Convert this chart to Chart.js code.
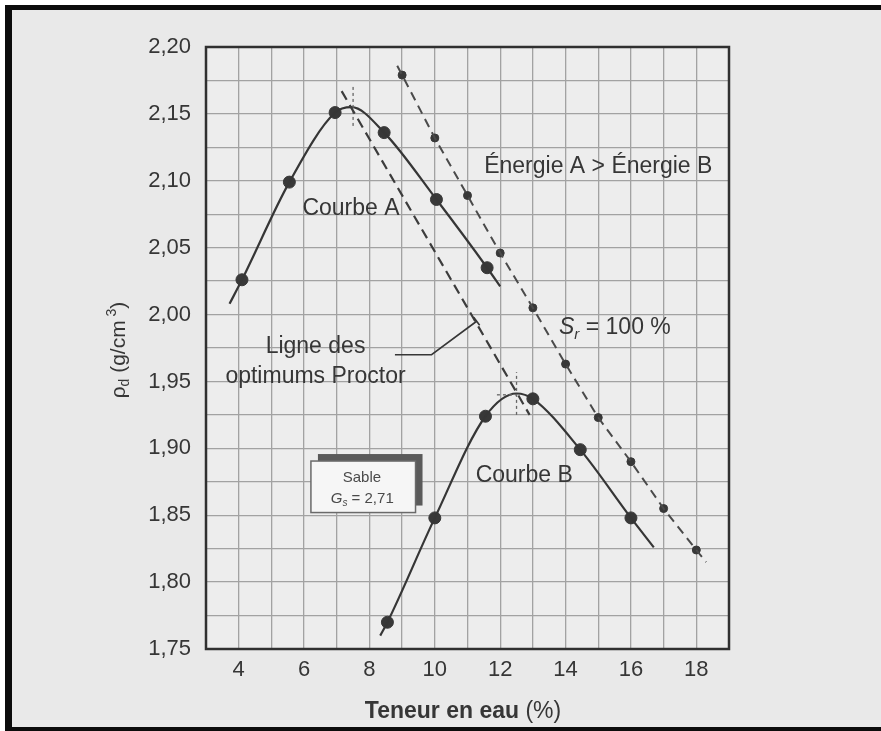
<!DOCTYPE html>
<html><head><meta charset="utf-8">
<script src="https://cdn.jsdelivr.net/npm/chart.js@4.4.0/dist/chart.umd.min.js"></script>
<style>html,body{margin:0;padding:0;background:#fff;overflow:hidden}canvas{display:block}</style>
</head><body>
<canvas id="c" width="881" height="731"></canvas>
<script>
// ---------- data ----------
const xTickValues = [4, 6, 8, 10, 12, 14, 16, 18];
const xTickLabels = ['4', '6', '8', '10', '12', '14', '16', '18'];
const yTickValues = [1.75, 1.80, 1.85, 1.90, 1.95, 2.00, 2.05, 2.10, 2.15, 2.20];
const yTickLabels = ['1,75', '1,80', '1,85', '1,90', '1,95', '2,00', '2,05', '2,10', '2,15', '2,20'];

// Courbe A (measured points)
const curveA_w  = [4.1, 5.55, 6.95, 8.45, 10.05, 11.6];
const curveA_rd = [2.026, 2.099, 2.151, 2.136, 2.086, 2.035];
// Courbe A (drawn trace)
const traceA_w  = [3.72, 4.1, 5.55, 6.95, 7.45, 8.45, 10.05, 11.6, 12.0];
const traceA_rd = [2.008, 2.026, 2.099, 2.151, 2.155, 2.136, 2.086, 2.035, 2.021];

// Courbe B (measured points)
const curveB_w  = [8.55, 10.0, 11.55, 13.0, 14.45, 16.0];
const curveB_rd = [1.770, 1.848, 1.924, 1.937, 1.899, 1.848];
// Courbe B (drawn trace)
const traceB_w  = [8.33, 8.55, 10.0, 11.55, 12.5, 13.0, 14.45, 16.0, 16.7];
const traceB_rd = [1.760, 1.770, 1.848, 1.924, 1.941, 1.937, 1.899, 1.848, 1.826];

// Sr = 100 % (points and trace ends)
const sat_w  = [9, 10, 11, 12, 13, 14, 15, 16, 17, 18];
const sat_rd = [2.179, 2.132, 2.089, 2.046, 2.005, 1.963, 1.923, 1.890, 1.855, 1.824];
const satTrace_w  = [8.85, 9, 10, 11, 12, 13, 14, 15, 16, 17, 18, 18.3];
const satTrace_rd = [2.186, 2.179, 2.132, 2.089, 2.046, 2.005, 1.963, 1.923, 1.890, 1.855, 1.824, 1.815];

// Ligne des optimums Proctor
const opt_w  = [7.15, 12.9];
const opt_rd = [2.167, 1.925];

// short dotted guides at the optimums
const guideA_w = [7.5, 7.5],   guideA_rd = [2.141, 2.171];
const guideBv_w = [12.5, 12.5], guideBv_rd = [1.925, 1.957];
const guideBh_w = [11.9, 12.5], guideBh_rd = [1.940, 1.940];

// leader line of the label
const leader_w  = [8.78, 9.90, 11.28];
const leader_rd = [1.970, 1.970, 1.995];

// ---------- helpers / styles ----------
const FONT = "'Liberation Sans', Arial, Helvetica, sans-serif";
const INK = '#363636';
const pts = (xs, ys) => xs.map((x, i) => ({x: x, y: ys[i]}));
const xGrid = []; for (let v = 3; v <= 19; v++) xGrid.push(v);
const yGrid = []; for (let i = 0; i <= 18; i++) yGrid.push(+(1.75 + 0.025 * i).toFixed(3));

function lineDS(xs, ys, o) {
  return Object.assign({data: pts(xs, ys), showLine: true, pointRadius: 0, borderColor: INK,
    borderWidth: 2, fill: false, borderCapStyle: 'butt'}, o || {});
}
function dotDS(xs, ys, r) {
  return {data: pts(xs, ys), showLine: false, pointRadius: r, pointHoverRadius: r,
    pointBackgroundColor: '#383838', pointBorderColor: '#383838', pointBorderWidth: 1};
}

const decor = {
  id: 'decor',
  beforeDraw(chart) {
    const {ctx, chartArea: a} = chart;
    ctx.save();
    ctx.fillStyle = '#ffffff'; ctx.fillRect(0, 0, 881, 731);
    ctx.fillStyle = '#e9e9e9'; ctx.fillRect(5, 5, 876, 726);
    ctx.fillStyle = '#ededed'; ctx.fillRect(a.left, a.top, a.width, a.height);
    ctx.fillStyle = '#0c0c0c';
    ctx.fillRect(5, 5, 876, 5);
    ctx.fillRect(5, 5, 7, 726);
    ctx.fillRect(5, 727, 876, 4);
    ctx.restore();
  },
  afterDatasetsDraw(chart) {
    const {ctx} = chart;
    const X = v => chart.scales.x.getPixelForValue(v);
    const Y = v => chart.scales.y.getPixelForValue(v);
    ctx.save();
    // Sable box with shadow
    const bx0 = X(6.21), bx1 = X(9.41), by0 = Y(1.8905), by1 = Y(1.852);
    ctx.fillStyle = '#5a5a5a';
    ctx.fillRect(bx0 + 7, by0 - 7, bx1 - bx0, by1 - by0);
    ctx.fillStyle = '#f6f6f6';
    ctx.fillRect(bx0, by0, bx1 - bx0, by1 - by0);
    ctx.strokeStyle = '#6a6a6a'; ctx.lineWidth = 1.5;
    ctx.strokeRect(bx0, by0, bx1 - bx0, by1 - by0);
    ctx.fillStyle = '#4a4a4a';
    ctx.textBaseline = 'alphabetic';
    ctx.textAlign = 'center';
    ctx.font = '15px ' + FONT;
    ctx.fillText('Sable', X(7.77), Y(1.875));
    // G_s = 2,71
    const segG = [['G', 'italic 15px ' + FONT, 0], ['s', 'italic 10px ' + FONT, 3], [' = 2,71', '15px ' + FONT, 0]];
    drawSegs(ctx, segG, X(7.78), Y(1.8595), 'center');

    // leader end tick
    ctx.strokeStyle = INK; ctx.lineWidth = 1.6;
    const ex = X(11.28), ey = Y(1.995);
    const dx = ex - X(9.90), dy = ey - Y(1.970);
    const L = Math.hypot(dx, dy), nx = -dy / L, ny = dx / L;
    ctx.beginPath(); ctx.moveTo(ex - nx * 5, ey - ny * 5); ctx.lineTo(ex + nx * 5, ey + ny * 5); ctx.stroke();

    // text labels
    ctx.fillStyle = INK;
    ctx.font = '23px ' + FONT;
    const labels = [
      ['Énergie A > Énergie B', 11.51, 2.106, 'left'],
      ['Courbe A', 5.95, 2.0745, 'left'],
      ['Courbe B', 11.25, 1.875, 'left'],
      ['Ligne des', 6.35, 1.971, 'center'],
      ['optimums Proctor', 6.35, 1.949, 'center']
    ];
    labels.forEach(l => { ctx.textAlign = l[3]; ctx.fillText(l[0], X(l[1]), Y(l[2])); });
    // S_r = 100 %
    const segS = [['S', 'italic 23px ' + FONT, 0], ['r', 'italic 15px ' + FONT, 5], [' = 100 %', '23px ' + FONT, 0]];
    drawSegs(ctx, segS, X(13.8), Y(1.9855), 'left');
    ctx.restore();
  },
  afterDraw(chart) {
    const {ctx, chartArea: a} = chart;
    ctx.save();
    ctx.strokeStyle = '#303030'; ctx.lineWidth = 2.5;
    ctx.strokeRect(a.left, a.top, a.width, a.height);
    // x title
    ctx.fillStyle = INK;
    const segX = [['Teneur en eau ', 'bold 23px ' + FONT, 0], ['(%)', '23px ' + FONT, 0]];
    drawSegs(ctx, segX, 463, 718, 'center');
    // y title rotated
    ctx.translate(118, 350);
    ctx.rotate(-Math.PI / 2);
    const segY = [['ρ', '21px ' + FONT, 0], ['d', '14px ' + FONT, 4], [' (g/cm', '21px ' + FONT, 0],
                  [' 3', '14px ' + FONT, -9], [')', '21px ' + FONT, 0]];
    drawSegs(ctx, segY, 0, 7, 'center');
    ctx.restore();
  }
};

function drawSegs(ctx, segs, x, y, align) {
  let w = 0;
  segs.forEach(s => { ctx.font = s[1]; w += ctx.measureText(s[0]).width; });
  let cx = align === 'center' ? x - w / 2 : x;
  ctx.textAlign = 'left';
  segs.forEach(s => { ctx.font = s[1]; ctx.fillText(s[0], cx, y + s[2]); cx += ctx.measureText(s[0]).width; });
}

const near = (arr, v) => arr.findIndex(a => Math.abs(a - v) < 1e-6);

new Chart(document.getElementById('c'), {
  type: 'scatter',
  data: {
    datasets: [
      lineDS(satTrace_w, satTrace_rd, {borderDash: [9, 6], borderColor: '#4a4a4a', borderWidth: 2}),
      dotDS(sat_w, sat_rd, 4),
      lineDS(opt_w, opt_rd, {borderDash: [10, 6], borderColor: '#3c3c3c', borderWidth: 2.2}),
      lineDS(guideA_w, guideA_rd, {borderDash: [3, 3], borderColor: '#666', borderWidth: 1.3}),
      lineDS(guideBv_w, guideBv_rd, {borderDash: [3, 3], borderColor: '#666', borderWidth: 1.3}),
      lineDS(guideBh_w, guideBh_rd, {borderDash: [3, 3], borderColor: '#666', borderWidth: 1.3}),
      lineDS(leader_w, leader_rd, {borderWidth: 1.6}),
      lineDS(traceA_w, traceA_rd, {cubicInterpolationMode: 'monotone', borderWidth: 2.2}),
      lineDS(traceB_w, traceB_rd, {cubicInterpolationMode: 'monotone', borderWidth: 2.2}),
      dotDS(curveA_w, curveA_rd, 6),
      dotDS(curveB_w, curveB_rd, 6)
    ]
  },
  options: {
    responsive: false,
    animation: false,
    events: [],
    layout: {padding: {left: 0, top: 47, right: 152, bottom: 0}},
    plugins: {legend: {display: false}, tooltip: {enabled: false}},
    scales: {
      x: {
        type: 'linear', min: 3, max: 19,
        afterFit(s) { s.height = 82; },
        afterBuildTicks(s) { s.ticks = xGrid.map(v => ({value: v})); },
        ticks: {
          autoSkip: false, maxRotation: 0, padding: 8, color: INK,
          font: {family: FONT, size: 22},
          callback: v => { const i = near(xTickValues, v); return i >= 0 ? xTickLabels[i] : ''; }
        },
        grid: {color: '#a2a2a2', lineWidth: 1.3, drawTicks: false},
        border: {display: false}
      },
      y: {
        type: 'linear', min: 1.75, max: 2.20,
        afterFit(s) { s.width = 206; },
        afterBuildTicks(s) { s.ticks = yGrid.map(v => ({value: v})); },
        ticks: {
          autoSkip: false, padding: 15, color: INK,
          font: {family: FONT, size: 22},
          callback: v => { const i = near(yTickValues, v); return i >= 0 ? yTickLabels[i] : ''; }
        },
        grid: {color: '#a2a2a2', lineWidth: 1.3, drawTicks: false},
        border: {display: false}
      }
    }
  },
  plugins: [decor]
});
</script>
</body></html>
